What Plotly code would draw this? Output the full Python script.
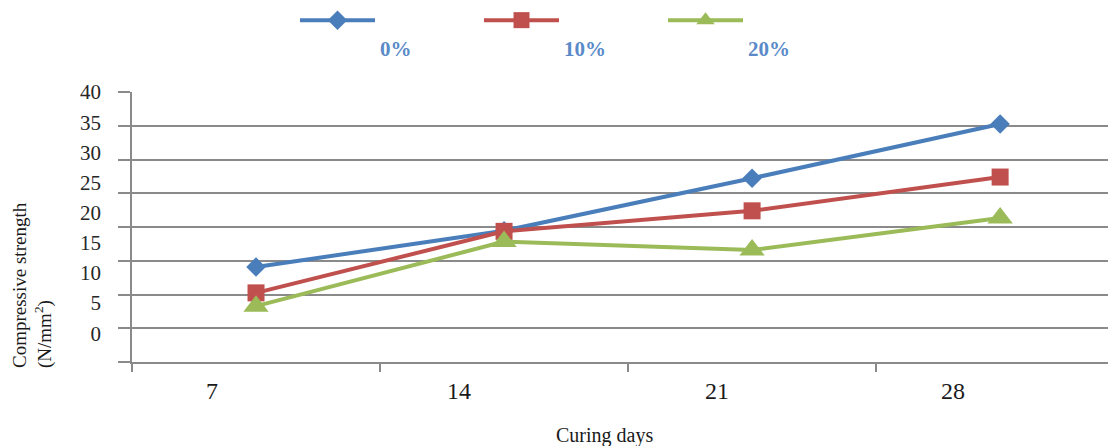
import plotly.graph_objects as go

# ---- data ----
days = [7, 14, 21, 28]
day_labels = ["7", "14", "21", "28"]
series_names = ["0%", "10%", "20%"]
strength_0 = [11.0, 17.0, 25.7, 34.7]
strength_10 = [6.7, 16.9, 20.3, 25.9]
strength_20 = [4.5, 15.2, 13.8, 19.1]
y_tick_values = [0, 5, 10, 15, 20, 25, 30, 35, 40]

# ---- layout / style ----
# the html page has an 8px body margin, so the figure is drawn 8px smaller
# and every page position below is shifted by that offset
OFF = 8
W, H = 1116 - OFF, 446 - OFF
ML, MT = 132 - OFF, 92 - OFF
MR, MB = 0, 446 - 362
PW, PH = W - ML - MR, H - MT - MB
colors = ["#4A7EBB", "#C0504D", "#9BBB59"]
symbols = ["diamond", "square", "triangle-up"]
msizes = [15, 17, 22]
grid_col = "#8A8A8A"
serif = "Liberation Serif, Times New Roman, serif"
label_shift = [-1.24, -1.27, -0.99, -1.33]   # label placement (days) relative to category centre


def px_x(page_x):
    return (page_x - OFF - ML) / PW


def px_y(page_y):
    return 1 - (page_y - OFF - MT) / PH


fig = go.Figure()
for name, vals, c, s, ms in zip(series_names, [strength_0, strength_10, strength_20], colors, symbols, msizes):
    fig.add_trace(go.Scatter(
        x=days, y=vals, name="<br>" + name, mode="lines+markers",
        line=dict(color=c, width=4),
        marker=dict(symbol=s, size=ms, color=c),
        yaxis="y", hoverinfo="x+y",
    ))
# empty trace attached to the grid axis so it is always rendered
fig.add_trace(go.Scatter(x=[], y=[], yaxis="y2", showlegend=False, hoverinfo="skip"))

fig.update_layout(
    width=W, height=H,
    margin=dict(l=ML, r=MR, t=MT, b=MB, pad=0, autoexpand=False),
    paper_bgcolor="white", plot_bgcolor="white",
    showlegend=True,
    legend=dict(
        orientation="h", xref="paper", yref="paper",
        x=px_x(300 - 5), xanchor="left",
        y=px_y(0), yanchor="top",
        valign="top", itemwidth=75,
        entrywidth=94, entrywidthmode="pixels",
        font=dict(family=serif, size=21, color="#5A8AC8", weight="bold"),
        bgcolor="rgba(0,0,0,0)",
    ),
    xaxis=dict(
        range=[3.5, 31.27],
        tickmode="array",
        tickvals=[d + sh for d, sh in zip(days, label_shift)],
        ticktext=day_labels,
        ticks="", showgrid=False, zeroline=False,
        showline=True, linecolor=grid_col, linewidth=2,
        tickfont=dict(family=serif, size=24, color="#1A1A1A"),
        ticklabelstandoff=6,
        minor=dict(tick0=3.5, dtick=7, ticks="outside", ticklen=8,
                   tickcolor=grid_col, tickwidth=1.5, showgrid=False),
    ),
    yaxis=dict(
        range=[-4.76, 40],
        tickmode="array", tickvals=y_tick_values,
        ticktext=[str(v) for v in y_tick_values],
        ticks="", showgrid=False, zeroline=False, showline=False,
        tickfont=dict(family=serif, size=21, color="#262626"),
        ticklabelstandoff=30,
    ),
    yaxis2=dict(
        overlaying="y", side="left",
        range=[0, 40], tickmode="linear", tick0=0, dtick=5,
        showticklabels=False, showgrid=True, gridcolor=grid_col, gridwidth=1.6,
        ticks="outside", ticklen=12, tickcolor=grid_col, tickwidth=1.5,
        showline=True, linecolor=grid_col, linewidth=2, zeroline=False,
    ),
    annotations=[
        dict(text="Curing days", xref="paper", yref="paper",
             x=px_x(604), y=px_y(435),
             xanchor="center", yanchor="middle", showarrow=False,
             font=dict(family=serif, size=20, color="#1A1A1A")),
        dict(text="Compressive strength<br>(N/mm<sup>2</sup>)", xref="paper", yref="paper",
             x=px_x(32), y=px_y(370),
             xanchor="center", yanchor="bottom", textangle=-90, align="left",
             showarrow=False,
             font=dict(family=serif, size=19, color="#1A1A1A")),
    ],
)

fig.write_html("out.html")
